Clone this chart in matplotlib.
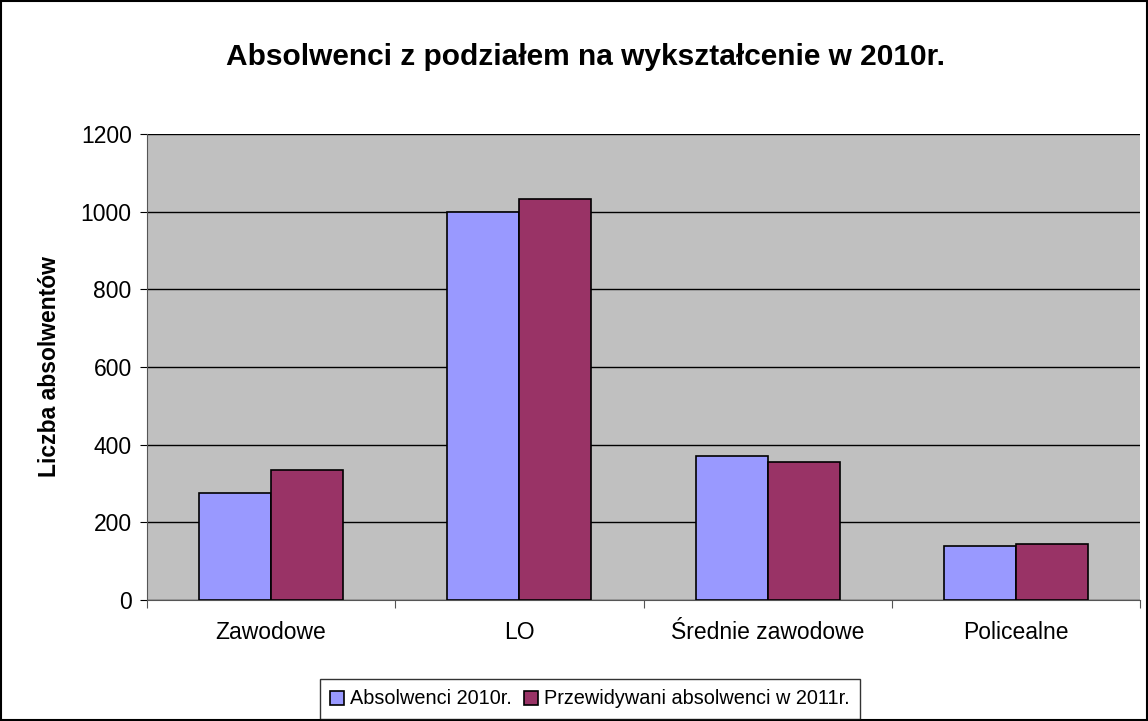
import numpy as np
import matplotlib.pyplot as plt
from matplotlib.patches import Rectangle

plt.rcParams['font.family'] = ['Liberation Sans', 'DejaVu Sans']

categories = ['Zawodowe', 'LO', 'Średnie zawodowe', 'Policealne']
abs_2010 = [275, 998, 371, 139]
abs_2011 = [336, 1032, 356, 144]
series_names = ['Absolwenci 2010r.', 'Przewidywani absolwenci w 2011r.']

fig = plt.figure(figsize=(11.48, 7.21), dpi=100)
ax = fig.add_axes([147/1148, 1-600/721, (1140-147)/1148, (600-134)/721])
ax.set_facecolor('#C0C0C0')

x = np.arange(len(categories))
w = 0.29
ax.bar(x - w/2, abs_2010, w, color='#9999FF', edgecolor='black', linewidth=1.2,
       label=series_names[0], zorder=3)
ax.bar(x + w/2, abs_2011, w, color='#993366', edgecolor='black', linewidth=1.2,
       label=series_names[1], zorder=3)

ax.set_xlim(-0.5, len(categories) - 0.5)
ax.set_ylim(0, 1200)
ax.set_yticks(range(0, 1201, 200))
ax.yaxis.grid(True, color='black', linewidth=1)
ax.set_axisbelow(True)

# category labels between boundary ticks
ax.set_xticks(np.arange(-0.5, len(categories), 1.0))
ax.set_xticklabels([])
ax.set_xticks(x, minor=True)
ax.set_xticklabels(categories, minor=True, fontsize=16.5)
ax.tick_params(axis='x', which='minor', length=0, pad=15)
ax.tick_params(axis='x', which='major', length=6, color='#555555', direction='out')
ax.tick_params(axis='y', length=5, labelsize=16.5, direction='out', pad=6)

for s in ['top', 'right']:
    ax.spines[s].set_visible(False)
ax.spines['left'].set_color('#555555')
ax.spines['bottom'].set_color('#555555')

ax.set_ylabel('Liczba absolwentów', fontsize=16.5, fontweight='bold', labelpad=14)
fig.text(586/1148, 1-57/721, 'Absolwenci z podziałem na wykształcenie w 2010r.',
         ha='center', va='center', fontsize=21.5, fontweight='bold')

leg = fig.legend(loc='center', bbox_to_anchor=(590/1148, 1-699/721), ncol=2,
                 fontsize=14.3, frameon=True, fancybox=False, edgecolor='black',
                 handlelength=0.7, handleheight=0.7, handletextpad=0.3,
                 columnspacing=0.6, borderpad=0.55)
leg.get_frame().set_linewidth(1.0)

fig.patches.append(Rectangle((0.001, 0.001), 0.998, 0.997, transform=fig.transFigure,
                             fill=False, edgecolor='black', linewidth=1.5))

fig.savefig('out.png', dpi=100)
